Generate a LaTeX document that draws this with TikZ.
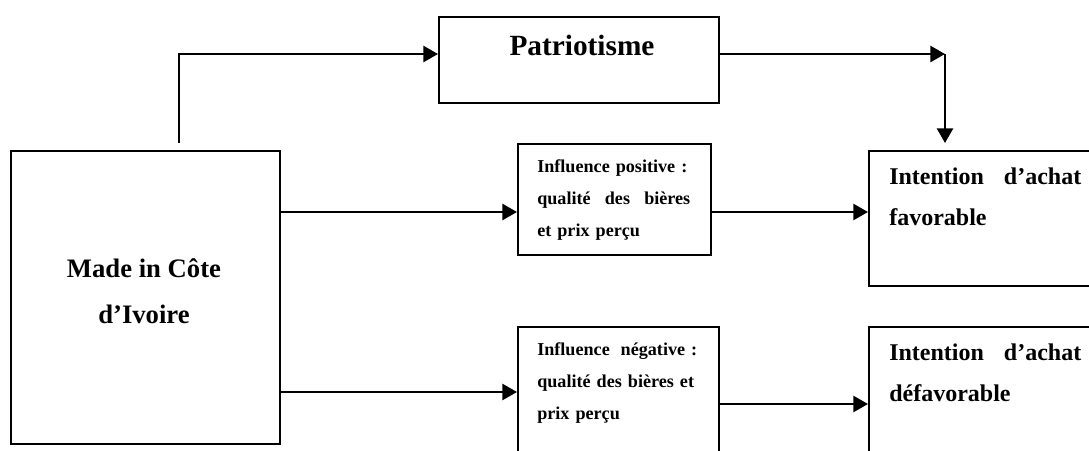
\documentclass[tikz,border=0pt]{standalone}
\usepackage{fontspec}
\setmainfont{Liberation Serif}
\usetikzlibrary{arrows.meta}

\newcommand{\pxu}{0.75pt}

\begin{document}
\begin{tikzpicture}[x=0.75pt, y=-0.75pt,
    boite/.style={draw, line width=1.2pt, inner sep=0pt, anchor=north west},
    fleche/.style={draw, line width=2pt, -{Triangle[length=11pt, width=12pt]}},
    texte/.style={inner sep=0pt, anchor=base west}]
    \useasboundingbox (0,0) rectangle (1089,450);
    \clip (0,0) rectangle (1089,450);
    % boxes
    \node[boite, minimum width=269*\pxu, minimum height=293*\pxu](made)at(10,150){};
    \node[boite, minimum width=280*\pxu, minimum height=86*\pxu](patr)at(438,16){};
    \node[boite, minimum width=193*\pxu, minimum height=111*\pxu](infpos)at(517,143){};
    \node[boite, minimum width=201*\pxu, minimum height=150*\pxu](infneg)at(517,326){};
    \node[boite, minimum width=260*\pxu, minimum height=135*\pxu](intfav)at(868,150){};
    \node[boite, minimum width=260*\pxu, minimum height=150*\pxu](intdef)at(868,326){};
    % texts
    \node[texte, anchor=base, font=\fontsize{22}{26}\selectfont\bfseries](tpatr)at(582,55){Patriotisme};
    \node[texte, anchor=base, align=center, font=\fontsize{20}{34}\selectfont\bfseries](tmade)at(144,323){Made in Côte\\d’Ivoire};
    \node[texte, text width=153*\pxu, align=left, font=\fontsize{13.6}{24}\selectfont\bfseries](tpos)at(537,172){\mbox{Influence positive :}\\qualité\hfill des\hfill bières\\et prix perçu};
    \node[texte, text width=160*\pxu, align=left, font=\fontsize{13.6}{24}\selectfont\bfseries](tneg)at(537,355){Influence\hfill négative :\\\mbox{qualité des bières et}\\prix perçu};
    \node[texte, text width=192*\pxu, align=left, font=\fontsize{18}{30.75}\selectfont\bfseries](tfav)at(889,184){Intention\hfill d’achat\\favorable};
    \node[texte, text width=192*\pxu, align=left, font=\fontsize{18}{30.75}\selectfont\bfseries](tdef)at(889,360){Intention\hfill d’achat\\défavorable};
    % arrows
    \coordinate(depart)at(179,143);
    \coordinate(haut)at(0,54);
    \coordinate(coin)at(945,54);
    \coordinate(arrivee)at(945,143);
    \coordinate(ligneA)at(0,212);
    \coordinate(ligneB)at(0,392);
    \coordinate(ligneC)at(0,404);
    \path[fleche](depart)|-(patr.west |- haut);
    \path[fleche](patr.east |- haut)--(coin);
    \path[fleche](coin)--(arrivee);
    \path[fleche](made.east |- ligneA)--(infpos.west |- ligneA);
    \path[fleche](infpos.east |- ligneA)--(intfav.west |- ligneA);
    \path[fleche](made.east |- ligneB)--(infneg.west |- ligneB);
    \path[fleche](infneg.east |- ligneC)--(intdef.west |- ligneC);
\end{tikzpicture}
\end{document}
